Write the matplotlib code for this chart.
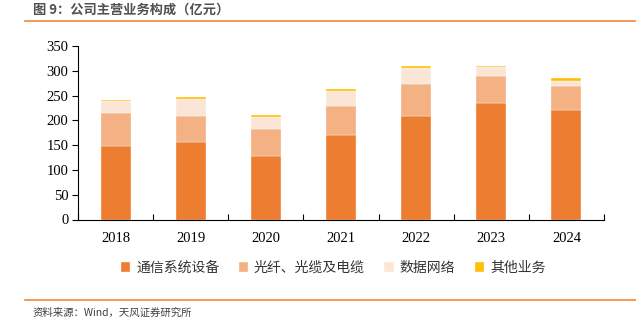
import matplotlib
matplotlib.use("Agg")
import matplotlib.pyplot as plt
from matplotlib.lines import Line2D
import numpy as np

years = ["2018", "2019", "2020", "2021", "2022", "2023", "2024"]
comm_equipment = [148, 156, 128, 170, 209, 236, 221]
fiber_cable = [67, 53, 55, 59, 64, 54, 49]
data_network = [25, 34, 24, 30, 33, 18, 10]
other_business = [2, 4, 3, 4, 4, 2, 5]
series_names = ["通信系统设备", "光纤、光缆及电缆", "数据网络", "其他业务"]
yticks = [0, 50, 100, 150, 200, 250, 300, 350]

colors = ["#ED7D31", "#F4B183", "#FBE5D6", "#FFC000"]
cjk = ["Noto Sans CJK SC", "DejaVu Sans"]
serif = ["Liberation Serif", "DejaVu Serif"]

fig = plt.figure(figsize=(6.36, 3.23), dpi=100)
ax = fig.add_axes([78/636, 1-219.5/323, (604-78)/636, (219.5-46)/323])

x = np.arange(len(years))
bottom = np.zeros(len(years))
handles = []
for vals, c, name in zip([comm_equipment, fiber_cable, data_network, other_business], colors, series_names):
    b = ax.bar(x, vals, width=0.4, bottom=bottom, color=c, edgecolor="white", linewidth=0.25, label=name)
    bottom += np.array(vals)
    handles.append(b)

ax.set_xlim(-0.5, len(years)-0.5)
ax.set_ylim(0, 350)
ax.set_yticks(yticks)
ax.set_yticklabels([str(t) for t in yticks], fontfamily=serif, fontsize=10.5)
ax.set_xticks(x)
ax.set_xticklabels(years, fontfamily=serif, fontsize=10.5)
ax.tick_params(axis="x", which="major", length=0, pad=9)
ax.set_xticks(np.arange(len(years)+1) - 0.5, minor=True)
ax.tick_params(axis="x", which="minor", direction="in", length=4, width=0.8)
ax.tick_params(axis="y", direction="out", length=4, width=0.8, pad=3)
for s in ["top", "right"]:
    ax.spines[s].set_visible(False)
ax.spines["left"].set_linewidth(0.8)
ax.spines["bottom"].set_linewidth(0.8)

leg = ax.legend(handles=handles, labels=series_names, loc="center", bbox_to_anchor=(0.485, -0.28),
                ncol=4, frameon=False, prop={"family": cjk, "size": 10},
                handlelength=0.7, handleheight=0.7, handletextpad=0.4, columnspacing=1.4)
for t in leg.get_texts():
    t.set_color("#333333")

fig.text(33/636, 1-10/323, "图 9：公司主营业务构成（亿元）", fontfamily=cjk, fontsize=9.5,
         fontweight="bold", color="#505050", va="center", ha="left")
fig.add_artist(Line2D([25/636, 1], [1-21/323, 1-21/323], color="#F0883A", linewidth=1.2))
fig.add_artist(Line2D([25/636, 1], [1-299.5/323, 1-299.5/323], color="#F0883A", linewidth=1.2))
fig.text(33/636, 1-313/323, "资料来源：Wind，天风证券研究所", fontfamily=cjk, fontsize=7.5,
         color="#404040", va="center", ha="left")

fig.savefig("out.png", dpi=100)
